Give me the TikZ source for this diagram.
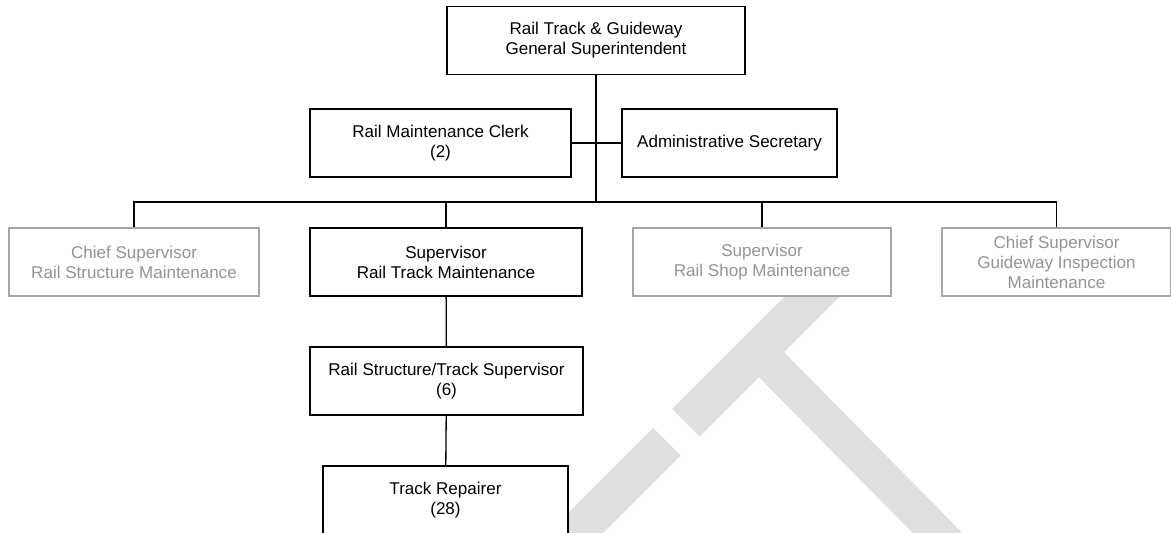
\documentclass[tikz,border=0pt]{standalone}
\usepackage{fontspec}
\setmainfont{Liberation Sans}
\begin{document}
\begin{tikzpicture}[x=0.02cm, y=-0.02cm, font=\fontsize{9.7}{11.4}\selectfont, line join=miter,
  box/.style={draw, fill=white, line width=0.75pt, align=center, inner sep=0pt, minimum height=1.36cm},
  dimbox/.style={box, draw=black!35, text=black!42},
  link/.style={line width=0.75pt},
  trunk/.style={line width=1.3pt}]
\useasboundingbox (0,0) rectangle (1171,533);
\clip (0,0) rectangle (1171,533);
% watermark
\fill[gray!25] (830.5,250.5) -- (858,278) -- (699.5,436.5) -- (672,409) -- cycle;
\fill[gray!25] (653,428) -- (680.5,455.5) -- (268,868) -- (240.5,840.5) -- cycle;
\fill[gray!25] (771,339) -- (746,364) -- (1188,812) -- (1213,787) -- cycle;
% bus lines
\coordinate (bus) at (596,202);
\node[box, minimum width=5.96cm] (gs) at (596,40.5) {Rail Track \& Guideway\\General Superintendent};
\node[box, minimum width=5.22cm] (clerk) at (440.5,143) {Rail Maintenance Clerk\\(2)};
\node[box, minimum width=4.3cm] (sec) at (729.5,143) {Administrative Secretary};
\node[dimbox, minimum width=5cm] (csrs) at (134,262) {Chief Supervisor\\Rail Structure Maintenance};
\node[box, minimum width=5.44cm] (srt) at (446,262) {Supervisor\\Rail Track Maintenance};
\node[dimbox, minimum width=5.16cm] (srs) at (762,262) {Supervisor\\Rail Shop Maintenance};
\node[dimbox, minimum width=4.58cm] (csgi) at (1056.5,262) {Chief Supervisor\\Guideway Inspection\\Maintenance};
\node[box, minimum width=5.46cm] (rsts) at (446.5,381) {Rail Structure/Track Supervisor\\(6)};
\node[box, minimum width=4.9cm] (tr) at (445.5,500) {Track Repairer\\(28)};
\draw[trunk] (gs) -- (bus);
\draw[link] (clerk) -- (sec);
\draw[link] (csrs.north) |- (bus) -| (csgi.north);
\draw[link] (srt.north) -- (srt.north |- bus);
\draw[link] (srs.north) -- (srs.north |- bus);
\draw[link] (srt) -- (rsts);
\draw[link] (rsts) -- (tr);
\end{tikzpicture}
\end{document}
